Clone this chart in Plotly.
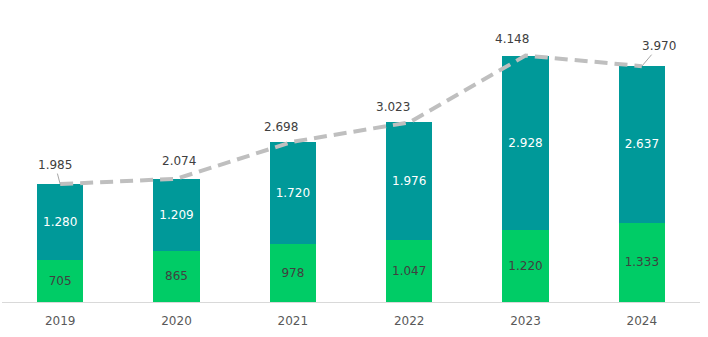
import plotly.graph_objects as go

years = ["2019", "2020", "2021", "2022", "2023", "2024"]
base_vals = [705, 865, 978, 1047, 1220, 1333]
top_vals = [1280, 1209, 1720, 1976, 2928, 2637]
totals = [1985, 2074, 2698, 3023, 4148, 3970]

# label offsets (px) for the total labels: (dx, dy, leader line)
label_offsets = [(-5, -19, True), (2, 18, False), (-12, 15, False),
                 (-16, 15, False), (-14, 17, False), (17, -20, True)]

GREEN = "#00CC66"
TEAL = "#009999"
FONT = "DejaVu Sans"


def fmt(v):
    # thousands separated with a dot
    return f"{v:,}".replace(",", ".")


xpos = list(range(len(years)))

fig = go.Figure()
fig.add_trace(go.Bar(
    x=xpos, y=base_vals, marker=dict(color=GREEN, line=dict(width=0)), width=0.4,
    text=[fmt(v) for v in base_vals], textposition="inside",
    insidetextanchor="middle",
    textfont=dict(family=FONT, size=12, color="#404040"),
    hoverinfo="skip",
))
fig.add_trace(go.Bar(
    x=xpos, y=top_vals, marker=dict(color=TEAL, line=dict(width=0)), width=0.4,
    text=[fmt(v) for v in top_vals], textposition="inside",
    insidetextanchor="middle",
    textfont=dict(family=FONT, size=12, color="white"),
    hoverinfo="skip",
))
fig.add_trace(go.Scatter(
    x=xpos, y=totals, mode="lines",
    line=dict(color="#BFBFBF", width=4, dash="13px,7px"),
    hoverinfo="skip",
))

for xi, tot, (dx, dy, leader) in zip(xpos, totals, label_offsets):
    if leader:
        fig.add_annotation(
            x=xi, y=tot, text=fmt(tot), showarrow=True, ax=dx, ay=dy,
            arrowhead=0, arrowwidth=1, arrowcolor="#A6A6A6", standoff=0,
            font=dict(family=FONT, size=12, color="#404040"),
        )
    else:
        fig.add_annotation(
            x=xi, y=tot, text=fmt(tot), showarrow=False,
            xshift=dx, yshift=dy, yanchor="middle",
            font=dict(family=FONT, size=12, color="#404040"),
        )

fig.update_layout(
    width=708, height=337,
    margin=dict(l=2, r=8, t=20, b=35),
    barmode="stack",
    showlegend=False,
    plot_bgcolor="white", paper_bgcolor="white",
    font=dict(family=FONT, size=12, color="#595959"),
)
fig.update_xaxes(range=[-0.5, len(years) - 0.5], tickvals=xpos, ticktext=years,
                 showline=True, linecolor="#D9D9D9", linewidth=1,
                 showgrid=False, zeroline=False, ticks="",
                 ticklabelstandoff=8,
                 tickfont=dict(family=FONT, size=12, color="#595959"))
fig.update_yaxes(range=[0, 4747], visible=False, showgrid=False)

fig.write_html("out.html")
